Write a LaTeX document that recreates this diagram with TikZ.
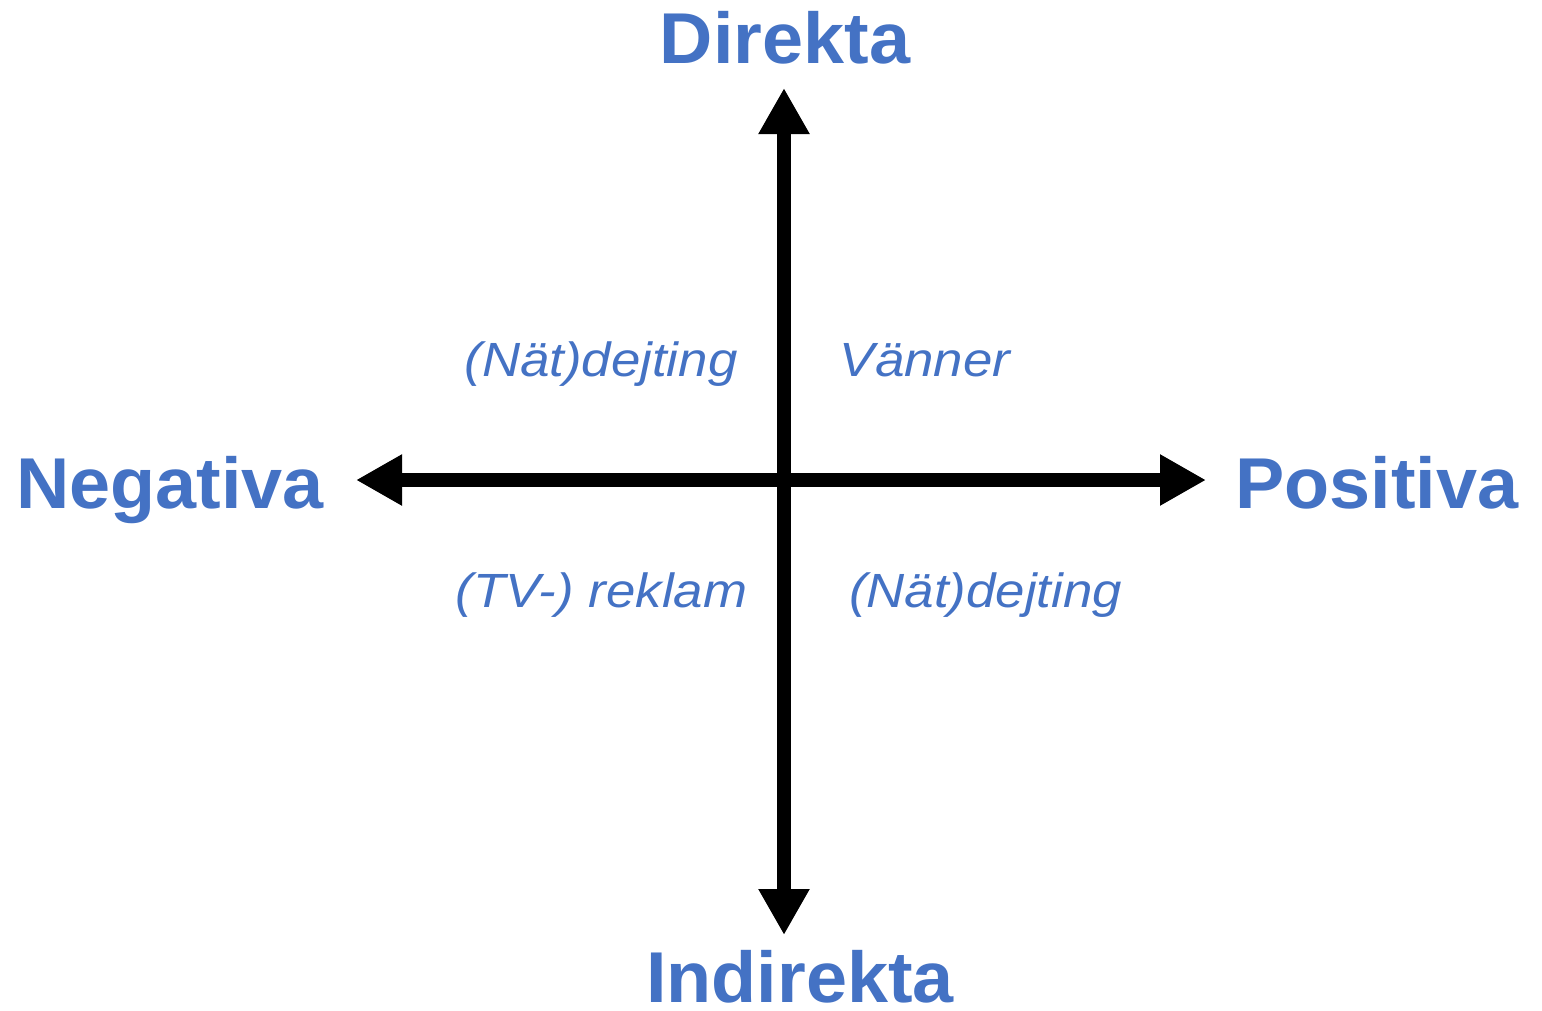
\documentclass[tikz,border=0pt]{standalone}
\usepackage{fontspec}
\setmainfont{Liberation Sans}
\usetikzlibrary{arrows.meta}
\definecolor{lblue}{HTML}{4472C4}
\newcommand{\bigtxt}[1]{\scalebox{1.025}[1]{#1}}
\newcommand{\smalltxt}[1]{\scalebox{1.1}[1]{#1}}
\tikzset{
  axis/.style={line width=14pt, black, {Triangle[length=46pt,width=48pt]}-{Triangle[length=46pt,width=48pt]}},
  biglabel/.style={anchor=base, text=lblue, font=\fontsize{72pt}{72pt}\selectfont\bfseries, inner sep=0pt},
  smalllabel/.style={anchor=base, text=lblue, font=\fontsize{48pt}{48pt}\selectfont\itshape, inner sep=0pt}
}
\begin{document}
\begin{tikzpicture}[x=1pt,y=-1pt]
\useasboundingbox (0,0) rectangle (1542,1010);
\coordinate (top) at (784,88);
\coordinate (bot) at (784,935);
\coordinate (lft) at (356,480);
\coordinate (rgt) at (1206,480);
\draw[axis] (bot) -- (top);
\draw[axis] (lft) -- (rgt);
\node[biglabel] (dir) at (785,63) {\bigtxt{Direkta}};
\node[biglabel, text depth=0pt] (ind) at (800,1002) {\bigtxt{Indirekta}};
\node[biglabel] (neg) at (170,508) {\bigtxt{Negativa}};
\node[biglabel] (pos) at (1377,508) {\bigtxt{Positiva}};
\node[smalllabel] (q1) at (601,376) {\smalltxt{(Nät)dejting}};
\node[smalllabel] (q2) at (925,376) {\smalltxt{Vänner}};
\node[smalllabel] (q3) at (601.5,607) {\smalltxt{(TV-) reklam}};
\node[smalllabel] (q4) at (985.5,607) {\smalltxt{(Nät)dejting}};
\end{tikzpicture}
\end{document}
